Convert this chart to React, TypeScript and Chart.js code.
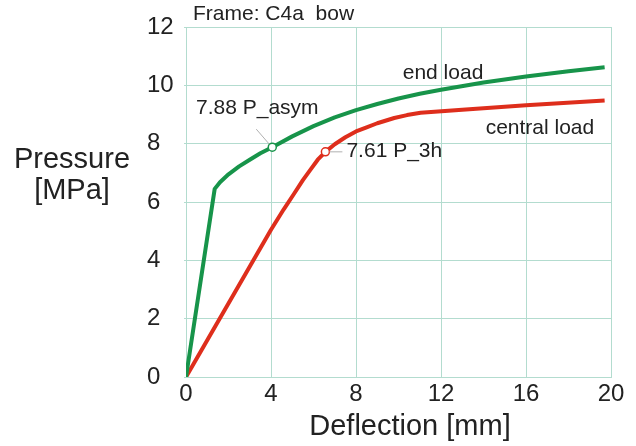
import React, { useEffect, useRef } from "react";
import { Chart, registerables } from "chart.js";

Chart.register(...registerables);

// Data
const endLoadX = [0, 1.35, 1.6, 2, 2.5, 3, 3.5, 4.06, 5, 6, 7, 8, 9, 10, 11, 12, 14, 16, 18, 19.7];
const endLoadY = [0, 6.45, 6.68, 6.95, 7.22, 7.45, 7.67, 7.88, 8.25, 8.6, 8.9, 9.15, 9.36, 9.55, 9.71, 9.85, 10.1, 10.3, 10.48, 10.62];
const centralLoadX = [0, 4, 4.6, 5.1, 5.5, 5.85, 6.2, 6.56, 7, 7.5, 8, 8.5, 9, 9.8, 10.4, 11.04, 13, 16, 19.7];
const centralLoadY = [0, 5.05, 5.75, 6.3, 6.75, 7.1, 7.45, 7.72, 7.98, 8.22, 8.42, 8.56, 8.7, 8.88, 8.98, 9.06, 9.16, 9.32, 9.48];
const markerAsym = { x: 4.06, y: 7.88 };
const marker3h = { x: 6.56, y: 7.72 };
const xTicks = [0, 4, 8, 12, 16, 20];
const yTicks = [0, 2, 4, 6, 8, 10, 12];

const GREEN = "#17944a";
const RED = "#de2e1c";
const GRID = "#b3dccf";
const FONT = "'Liberation Sans', Arial, sans-serif";

const textPlugin = {
  id: "texts",
  afterDraw(chart: any) {
    const ctx = chart.ctx;
    const xs = chart.scales.x;
    const ys = chart.scales.y;
    const px = (v: number) => xs.getPixelForValue(v);
    const py = (v: number) => ys.getPixelForValue(v);
    ctx.save();
    // leader lines
    ctx.strokeStyle = "#b0b0b0";
    ctx.lineWidth = 1;
    ctx.beginPath();
    ctx.moveTo(px(markerAsym.x) - 16, py(markerAsym.y) - 18);
    ctx.lineTo(px(markerAsym.x) - 3, py(markerAsym.y) - 3);
    ctx.moveTo(px(marker3h.x) + 4, py(marker3h.y));
    ctx.lineTo(px(marker3h.x) + 17, py(marker3h.y));
    ctx.stroke();

    ctx.fillStyle = "#222";
    ctx.textBaseline = "middle";
    ctx.textAlign = "left";
    ctx.font = `21px ${FONT}`;
    ctx.fillText("Frame: C4a  bow", px(0.33), py(12.44));
    ctx.fillText("7.88 P_asym", px(0.47), py(9.23));
    ctx.fillText("7.61 P_3h", px(7.55), py(7.75));
    ctx.fillText("end load", px(10.2), py(10.43));
    ctx.fillText("central load", px(14.1), py(8.54));

    // axis titles
    ctx.font = `29px ${FONT}`;
    ctx.textAlign = "center";
    ctx.textBaseline = "alphabetic";
    ctx.fillText("Pressure", 72, 168);
    ctx.fillText("[MPa]", 72, 199);
    ctx.fillText("Deflection [mm]", 410, 435);
    ctx.restore();
  },
};

export default function App() {
  const ref = useRef<HTMLCanvasElement>(null);
  useEffect(() => {
    if (!ref.current) return;
    const chart = new Chart(ref.current, {
      type: "scatter",
      data: {
        datasets: [
          {
            label: "end load",
            data: endLoadX.map((x, i) => ({ x, y: endLoadY[i] })),
            showLine: true,
            borderColor: GREEN,
            borderWidth: 4,
            pointRadius: 0,
            tension: 0,
            borderJoinStyle: "round",
            order: 2,
          },
          {
            label: "central load",
            data: centralLoadX.map((x, i) => ({ x, y: centralLoadY[i] })),
            showLine: true,
            borderColor: RED,
            borderWidth: 4,
            pointRadius: 0,
            tension: 0,
            borderJoinStyle: "round",
            order: 2,
          },
          {
            label: "P_asym",
            data: [markerAsym],
            pointRadius: 4,
            pointBackgroundColor: "#ffffff",
            pointBorderColor: GREEN,
            pointBorderWidth: 1.5,
            order: 1,
          },
          {
            label: "P_3h",
            data: [marker3h],
            pointRadius: 4,
            pointBackgroundColor: "#ffffff",
            pointBorderColor: RED,
            pointBorderWidth: 1.5,
            order: 1,
          },
        ],
      },
      options: {
        responsive: false,
        animation: false,
        layout: { padding: { left: 147, right: 25, top: 27, bottom: 0 } },
        plugins: { legend: { display: false }, tooltip: { enabled: false } },
        scales: {
          x: {
            type: "linear",
            min: 0,
            max: 20,
            afterFit: (s: any) => {
              s.height = 69;
            },
            afterBuildTicks: (s: any) => {
              s.ticks = xTicks.map((v) => ({ value: v }));
            },
            ticks: {
              font: { size: 24, family: FONT },
              color: "#222",
              padding: 3,
              maxRotation: 0,
            },
            grid: { color: GRID, lineWidth: 1, tickLength: 0 },
            border: { color: GRID },
          },
          y: {
            type: "linear",
            min: 0,
            max: 12,
            afterFit: (s: any) => {
              s.width = 39;
            },
            afterBuildTicks: (s: any) => {
              s.ticks = yTicks.map((v) => ({ value: v }));
            },
            ticks: {
              font: { size: 24, family: FONT },
              color: "#222",
              crossAlign: "far",
              padding: 2,
            },
            grid: { color: GRID, lineWidth: 1, tickLength: 2 },
            border: { color: GRID },
          },
        },
      },
      plugins: [textPlugin],
    });
    return () => chart.destroy();
  }, []);
  return (
    <div style={{ position: "fixed", left: 0, top: 0, background: "#fff" }}>
      <canvas ref={ref} width={636} height={446} />
    </div>
  );
}
